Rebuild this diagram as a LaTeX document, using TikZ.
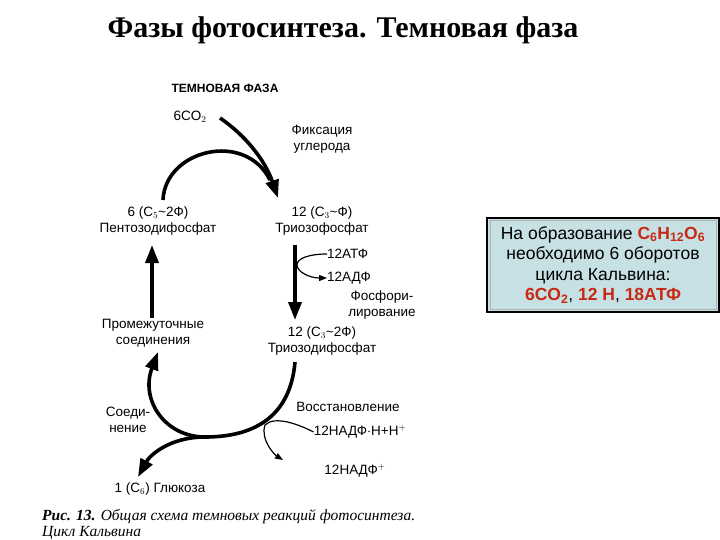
\documentclass[tikz,border=0pt]{standalone}
\usepackage{fontspec}
\setmainfont{Liberation Sans}
\newfontfamily\serifx{Liberation Serif}
\usetikzlibrary{arrows.meta}
\definecolor{boxfill}{RGB}{198,224,228}
\definecolor{redt}{RGB}{200,40,20}
\begin{document}
\begin{tikzpicture}[x=1pt,y=-1pt,
  lbl/.style={font=\fontsize{13.5}{16}\selectfont,align=center,inner sep=0},
  thick arrow/.style={line width=3.6pt,-{Triangle[length=18pt,width=13pt]}},
  thin arrow/.style={line width=1.2pt,-{Triangle[length=8pt,width=6pt]}}]
\useasboundingbox (0,0) rectangle (720,540);
\fill[white] (0,0) rectangle (720,540);
\node[font=\serifx\bfseries\fontsize{30}{34}\selectfont] (title) at (343,30) {Фазы фотосинтеза. Темновая фаза};
\node[lbl,font=\bfseries\fontsize{12}{14}\selectfont] (tf) at (225,88) {ТЕМНОВАЯ ФАЗА};
\node[lbl] (co2) at (190,117) {6CO$_2$};
\node[lbl] (fix) at (322,139) {Фиксация\\углерода};
\node[lbl] (pent) at (158,221) {6 (C$_5$\textasciitilde2Ф)\\Пентозодифосфат};
\node[lbl] (trio) at (322,221) {12 (C$_3$\textasciitilde Ф)\\Триозофосфат};
\node[lbl,anchor=west] (atf) at (327,254) {12АТФ};
\node[lbl,anchor=west] (adf) at (327,278) {12АДФ};
\node[lbl] (phos) at (382,305) {Фосфори-\\лирование};
\node[lbl] (inter) at (153,333) {Промежуточные\\соединения};
\node[lbl] (tdf) at (322,341) {12 (C$_3$\textasciitilde2Ф)\\Триозодифосфат};
\node[lbl] (red) at (348,407) {Восстановление};
\node[lbl] (nadph) at (360,432) {12НАДФ$\cdot$Н+Н$^+$};
\node[lbl] (nadp) at (355,471) {12НАДФ$^+$};
\node[lbl] (soed) at (128,420) {Соеди-\\нение};
\node[lbl] (glu) at (160,489) {1 (C$_6$) Глюкоза};
\coordinate (co2s) at (220,118);
\coordinate (cyc1) at (278,198);
\coordinate (pentt) at (163,200);
\draw[thick arrow] (co2s) .. controls (245,135) and (265,160) .. (cyc1);
\draw[line width=3.6pt] (pentt) .. controls (165,150) and (245,130) .. (270,180);
\draw[thick arrow] (152,318) -- (152,245);
\draw[thick arrow] (295,245) -- (295,320);
\draw[thin arrow] (atf.west) .. controls (310,254) and (297,258) .. (297,265) .. controls (297,272) and (310,278) .. (adf.west);
\draw[thick arrow] (295,362) .. controls (290,420) and (250,437) .. (205,437) .. controls (165,437) and (140,400) .. (158,352);
\draw[thin arrow] (nadph.west) .. controls (300,425) and (275,415) .. (265,425) .. controls (260,440) and (275,455) .. (283,460);
\draw[thick arrow] (205,437) .. controls (170,437) and (150,455) .. (138,477);
\node[anchor=west,inner sep=0,font=\serifx\itshape\fontsize{15.5}{18}\selectfont] (cap1) at (42,517) {\textbf{Рис. 13.} Общая схема темновых реакций фотосинтеза.};
\node[anchor=west,inner sep=0,font=\serifx\itshape\fontsize{15.5}{18}\selectfont] (cap2) at (42,533) {Цикл Кальвина};
\draw[line width=2pt,fill=boxfill] (487,218) rectangle (719,312);
\draw[gray!60,line width=1pt] (490,221) rectangle (716,309);
\node[align=center,inner sep=0,font=\fontsize{17.5}{20.5}\selectfont] (box) at (603,265) {На образование \textcolor{redt}{\textbf{C\textsubscript{6}H\textsubscript{12}O\textsubscript{6}}}\\необходимо 6 оборотов\\цикла Кальвина:\\\textcolor{redt}{\textbf{6CO\textsubscript{2}}}, \textcolor{redt}{\textbf{12 H}}, \textcolor{redt}{\textbf{18АТФ}}};
\end{tikzpicture}
\end{document}
